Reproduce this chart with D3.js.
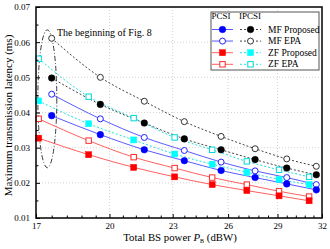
<!DOCTYPE html>
<html>
<head>
<meta charset="utf-8">
<script src="https://cdn.jsdelivr.net/npm/d3@7"></script>
<style>
  body { margin: 0; background: #fff; }
  text { font-family: "Liberation Serif", "Times New Roman", serif; fill: #000; }
</style>
</head>
<body>
<div id="chart"></div>
<script>
// marker positions (dBW)
var xMF = [17.6, 19.6, 21.6, 23.6, 25.6, 27.6, 29.6, 31.6];
var xZF = [17.1, 19.1, 21.1, 23.1, 25.1, 27.1, 29.1, 31.1];

// maximum transmission latency (ms)
var mfPropPCSI  = [0.0391, 0.0337, 0.0294, 0.0263, 0.0235, 0.0215, 0.0197, 0.0180];
var mfEpaPCSI   = [0.0452, 0.0382, 0.0329, 0.0292, 0.0259, 0.0234, 0.0215, 0.0195];
var mfPropIPCSI = [0.0498, 0.0423, 0.0370, 0.0325, 0.0294, 0.0266, 0.0242, 0.0223];
var mfEpaIPCSI  = [0.0611, 0.0500, 0.0432, 0.0374, 0.0332, 0.0297, 0.0268, 0.0247];
var zfPropPCSI  = [0.0327, 0.0280, 0.0244, 0.0217, 0.0195, 0.0178, 0.0163, 0.0149];
var zfEpaPCSI   = [0.0382, 0.0320, 0.0273, 0.0242, 0.0215, 0.0195, 0.0176, 0.0161];
var zfPropIPCSI = [0.0433, 0.0368, 0.0322, 0.0282, 0.0253, 0.0230, 0.0210, 0.0195];
var zfEpaIPCSI  = [0.0553, 0.0445, 0.0384, 0.0329, 0.0294, 0.0261, 0.0237, 0.0217];

var xTicks = [17, 20, 23, 26, 29, 32];
var yTicks = [0.01, 0.02, 0.03, 0.04, 0.05, 0.06, 0.07];
var legendNames = ["MF Proposed", "MF EPA", "ZF Proposed", "ZF EPA"];
var legendHeads = ["PCSI", "IPCSI"];

var W = 330, H = 249;
var margin = {left: 36, right: 8, top: 7, bottom: 31};

var svg = d3.select("#chart").append("svg")
    .attr("width", W)
    .attr("height", H);

svg.append("rect")
    .attr("width", W)
    .attr("height", H)
    .style("fill", "#fff");

var x = d3.scaleLog()
    .domain([17, 32])
    .range([margin.left, W - margin.right]);

var y = d3.scaleLinear()
    .domain([0.01, 0.07])
    .range([H - margin.bottom, margin.top]);

// grid
var grid = svg.append("g").attr("class", "grid");
grid.selectAll(".gx")
    .data(xTicks.slice(1, -1))
    .enter().append("line")
    .attr("x1", function(d) { return x(d); })
    .attr("x2", function(d) { return x(d); })
    .attr("y1", y(0.01))
    .attr("y2", y(0.07))
    .style("stroke", "#c8c8c8")
    .style("stroke-width", 0.8)
    .style("stroke-dasharray", "1,2");
grid.selectAll(".gy")
    .data(yTicks.slice(1, -1))
    .enter().append("line")
    .attr("x1", x(17))
    .attr("x2", x(32))
    .attr("y1", function(d) { return y(d); })
    .attr("y2", function(d) { return y(d); })
    .style("stroke", "#c8c8c8")
    .style("stroke-width", 0.8)
    .style("stroke-dasharray", "1,2");

// annotation ellipse around the start of the curves
var ell = {x0: 17.07, x1: 17.8, y0: 0.0243, y1: 0.0635};
svg.append("ellipse")
    .attr("cx", (x(ell.x0) + x(ell.x1)) / 2)
    .attr("cy", (y(ell.y0) + y(ell.y1)) / 2)
    .attr("rx", (x(ell.x1) - x(ell.x0)) / 2)
    .attr("ry", (y(ell.y0) - y(ell.y1)) / 2)
    .style("fill", "none")
    .style("stroke", "#222")
    .style("stroke-width", 0.9)
    .style("stroke-dasharray", "5,2,1,2");

svg.append("text")
    .attr("x", 57)
    .attr("y", 36)
    .style("font-size", "10px")
    .text("The beginning of Fig. 8");

var series = [
    {xs: xMF, ys: mfEpaIPCSI,  color: "#333333", line: "#444444", dash: "2,2", shape: "circle", filled: false},
    {xs: xMF, ys: mfPropIPCSI, color: "#000000", line: "#444444", dash: "2,2", shape: "circle", filled: true},
    {xs: xZF, ys: zfEpaIPCSI,  color: "#00d8d8", line: "#22e0e0", dash: "2,2", shape: "square", filled: false},
    {xs: xZF, ys: zfPropIPCSI, color: "#00ffff", line: "#22e0e0", dash: "2,2", shape: "square", filled: true},
    {xs: xMF, ys: mfEpaPCSI,   color: "#2222ff", line: "#5a5aff", dash: null, shape: "circle", filled: false},
    {xs: xMF, ys: mfPropPCSI,  color: "#0000ff", line: "#5a5aff", dash: null, shape: "circle", filled: true},
    {xs: xZF, ys: zfEpaPCSI,   color: "#ff2a2a", line: "#ff6060", dash: null, shape: "square", filled: false},
    {xs: xZF, ys: zfPropPCSI,  color: "#ff0000", line: "#ff6060", dash: null, shape: "square", filled: true}
];

var line = d3.line()
    .x(function(d) { return x(d[0]); })
    .y(function(d) { return y(d[1]); })
    .curve(d3.curveMonotoneX);

function drawMarker(g, shape, filled, color, cx, cy)
{
    if (shape == "circle")
    {
        g.append("circle")
            .attr("cx", cx)
            .attr("cy", cy)
            .attr("r", filled ? 3.3 : 3)
            .style("fill", filled ? color : "#fff")
            .style("stroke", color)
            .style("stroke-width", filled ? 0.5 : 1);
    }
    else
    {
        var s = filled ? 6 : 5.4;
        g.append("rect")
            .attr("x", cx - s / 2)
            .attr("y", cy - s / 2)
            .attr("width", s)
            .attr("height", s)
            .style("fill", filled ? color : "#fff")
            .style("stroke", color)
            .style("stroke-width", filled ? 0.5 : 1);
    }
}

var plot = svg.append("g").attr("class", "plot");
series.forEach(function(s)
{
    var pts = s.xs.map(function(v, i) { return [v, s.ys[i]]; });
    plot.append("path")
        .datum(pts)
        .attr("d", line)
        .style("fill", "none")
        .style("stroke", s.line)
        .style("stroke-width", 1)
        .style("stroke-dasharray", s.dash);
});
series.forEach(function(s)
{
    s.xs.forEach(function(v, i)
    {
        drawMarker(plot, s.shape, s.filled, s.color, x(v), y(s.ys[i]));
    });
});

// axes, ticks pointing inward
var xMinor = [];
for (var i = 0; i < xTicks.length - 1; i++)
    for (var k = 1; k < 5; k++) xMinor.push(xTicks[i] + k * 0.6);
var yMinor = yTicks.slice(0, -1).map(function(d) { return d + 0.005; });

var xAxis = svg.append("g")
    .attr("transform", "translate(0," + y(0.01) + ")")
    .call(d3.axisBottom(x).tickValues(xTicks).tickSizeInner(-4).tickSizeOuter(0).tickPadding(4.5).tickFormat(d3.format("d")));
svg.append("g")
    .attr("transform", "translate(0," + y(0.01) + ")")
    .call(d3.axisBottom(x).tickValues(xMinor).tickSizeInner(-2.5).tickSizeOuter(0).tickFormat(""));

var yAxis = svg.append("g")
    .attr("transform", "translate(" + x(17) + ",0)")
    .call(d3.axisLeft(y).tickValues(yTicks).tickSizeInner(-4).tickSizeOuter(0).tickPadding(6).tickFormat(d3.format(".2f")));
svg.append("g")
    .attr("transform", "translate(" + x(17) + ",0)")
    .call(d3.axisLeft(y).tickValues(yMinor).tickSizeInner(-2.5).tickSizeOuter(0).tickFormat(""));

svg.selectAll(".domain").remove();
svg.selectAll(".tick line").style("stroke", "#000").style("stroke-width", 1);
svg.selectAll(".tick text")
    .style("font-family", "'Liberation Serif', serif")
    .style("font-size", "9px")
    .style("fill", "#000");

svg.append("rect")
    .attr("x", x(17))
    .attr("y", y(0.07))
    .attr("width", x(32) - x(17))
    .attr("height", y(0.01) - y(0.07))
    .style("fill", "none")
    .style("stroke", "#000")
    .style("stroke-width", 1.5);

// axis titles
svg.append("text")
    .attr("transform", "translate(12," + ((y(0.01) + y(0.07)) / 2 + 3) + ") rotate(-90)")
    .attr("text-anchor", "middle")
    .style("font-size", "11px")
    .text("Maximum transmission latency (ms)");

var xt = svg.append("text")
    .attr("x", (x(17) + x(32)) / 2 + 1)
    .attr("y", 240.5)
    .attr("text-anchor", "middle")
    .style("font-size", "10.8px");
xt.append("tspan").text("Total BS power ");
xt.append("tspan").style("font-style", "italic").text("P");
xt.append("tspan").attr("dy", 2.5).style("font-size", "6px").text("B");
xt.append("tspan").attr("dy", -2.5).text(" (dBW)");

// legend
var lg = svg.append("g").attr("transform", "translate(211,12)");
lg.append("rect")
    .attr("width", 108)
    .attr("height", 58)
    .style("fill", "#fff")
    .style("stroke", "#555")
    .style("stroke-width", 1);
lg.selectAll(".head")
    .data(legendHeads)
    .enter().append("text")
    .attr("x", function(d, i) { return i == 0 ? 0.5 : 28; })
    .attr("y", 7)
    .style("font-size", "9px")
    .text(function(d) { return d; });

var legendRows = [[5, 1], [4, 0], [7, 3], [6, 2]];
legendRows.forEach(function(r, i)
{
    var ry = 17.5 + i * 11.6;
    [0, 1].forEach(function(c)
    {
        var s = series[r[c]];
        var x0 = c == 0 ? 1 : 29;
        lg.append("line")
            .attr("x1", x0)
            .attr("x2", x0 + 21)
            .attr("y1", ry)
            .attr("y2", ry)
            .style("stroke", (c == 0 && i == 1) ? "#a8a8ff" : s.line)
            .style("stroke-width", (c == 0 && i == 1) ? 2 : 1)
            .style("stroke-dasharray", s.dash);
        drawMarker(lg, s.shape, s.filled, s.color, x0 + 10.5, ry);
    });
    lg.append("text")
        .attr("x", 57)
        .attr("y", ry + 3)
        .style("font-size", "9.5px")
        .text(legendNames[i]);
});
</script>
</body>
</html>
